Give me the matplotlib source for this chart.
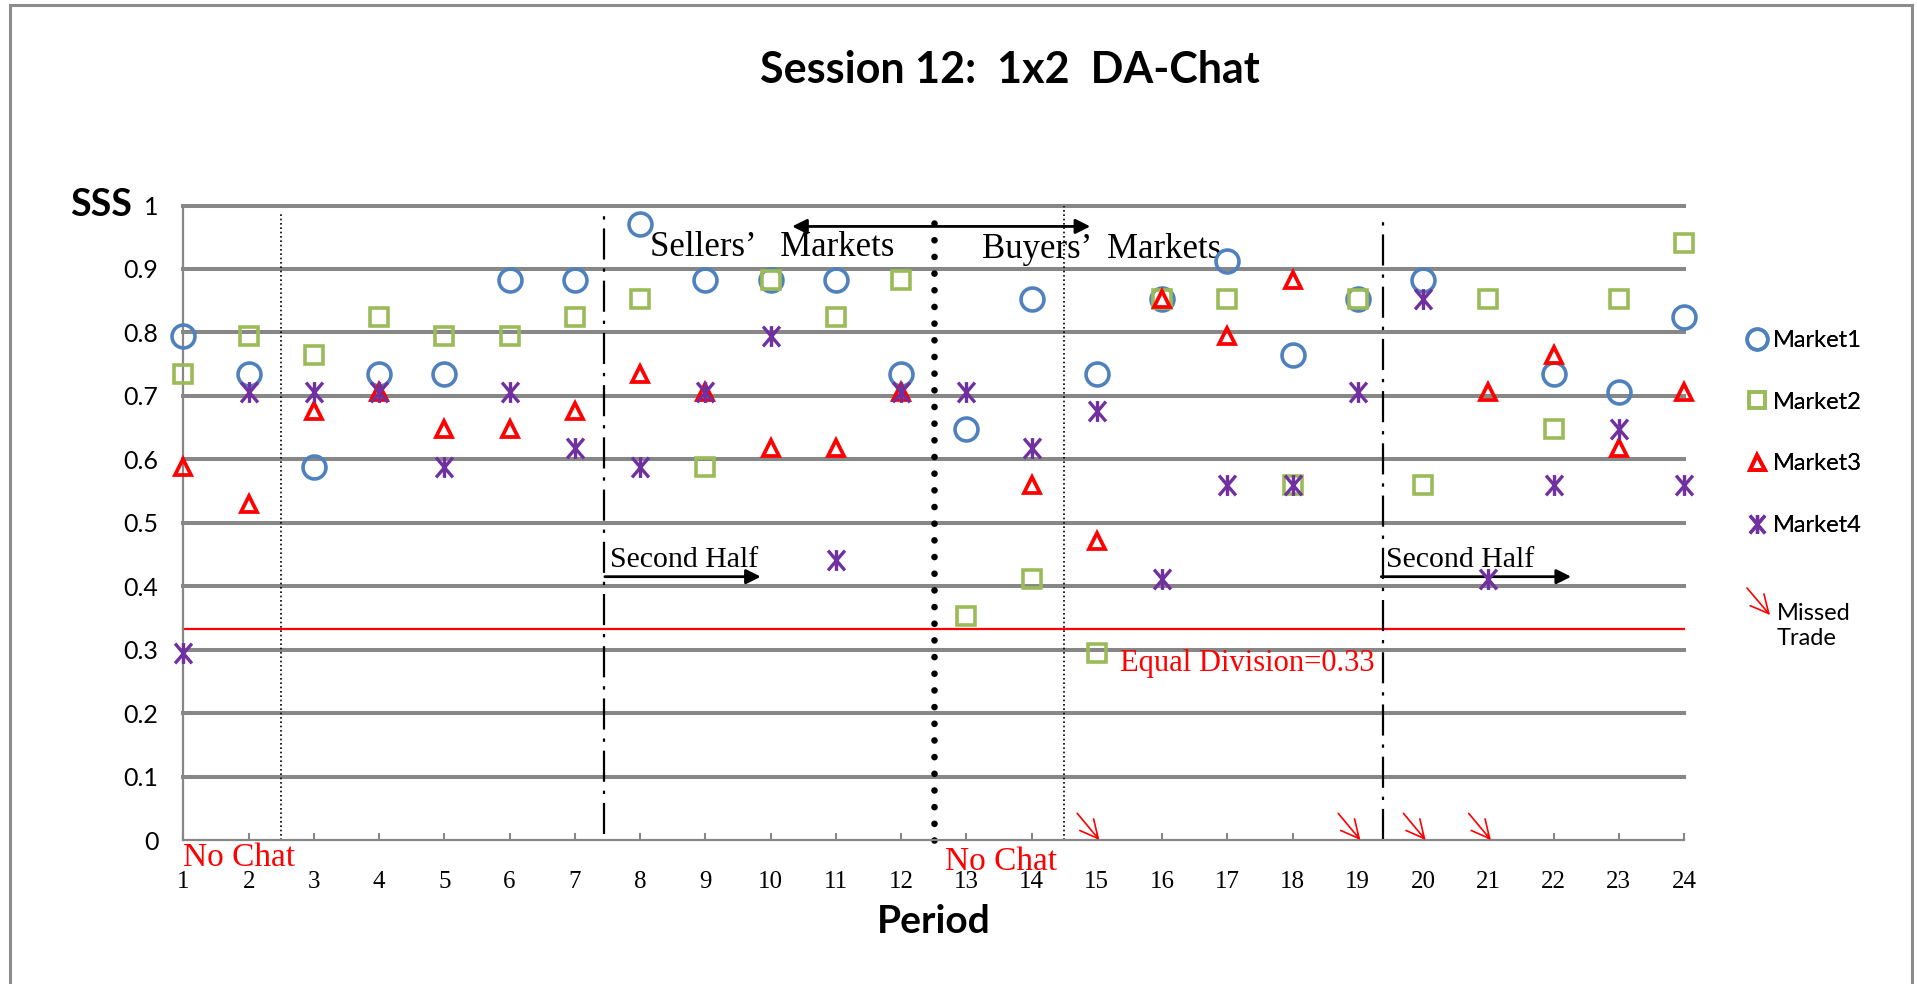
import matplotlib
matplotlib.use("Agg")
import matplotlib.pyplot as plt
from matplotlib.path import Path
import numpy as np

# ---------------- data ----------------
periods = list(range(1, 25))
market1 = [0.794, 0.735, 0.588, 0.735, 0.735, 0.882, 0.882, 0.971, 0.882, 0.882, 0.882, 0.735,
           0.647, 0.853, 0.735, 0.853, 0.912, 0.765, 0.853, 0.882, None, 0.735, 0.706, 0.824]
market2 = [0.735, 0.794, 0.765, 0.824, 0.794, 0.794, 0.824, 0.853, 0.588, 0.882, 0.824, 0.882,
           0.353, 0.412, 0.294, 0.853, 0.853, 0.559, 0.853, 0.559, 0.853, 0.647, 0.853, 0.941]
market3 = [0.588, 0.529, 0.676, 0.706, 0.647, 0.647, 0.676, 0.735, 0.706, 0.618, 0.618, 0.706,
           None, 0.559, 0.471, 0.853, 0.794, 0.882, None, None, 0.706, 0.765, 0.618, 0.706]
market4 = [0.294, 0.706, 0.706, 0.706, 0.588, 0.706, 0.618, 0.588, 0.706, 0.794, 0.441, 0.706,
           0.706, 0.618, 0.676, 0.412, 0.559, 0.559, 0.706, 0.853, 0.412, 0.559, 0.647, 0.559]
missed_trades = [15, 19, 20, 21]
equal_division = 1 / 3
y_ticks = [0, 0.1, 0.2, 0.3, 0.4, 0.5, 0.6, 0.7, 0.8, 0.9, 1.0]
y_tick_labels = ["0", "0.1", "0.2", "0.3", "0.4", "0.5", "0.6", "0.7", "0.8", "0.9", "1"]
series_labels = ["Market1", "Market2", "Market3", "Market4"]

# ---------------- figure ----------------
W, H = 1917, 984
fig = plt.figure(figsize=(W / 100, H / 100), dpi=100)
fig.patch.set_facecolor("white")

# outer frame (left, top, right edges)
frame_col = "#8c8c8c"
for xs_, ys_ in [([10, 10], [984, 5]), ([10, 1912], [5, 5]), ([1912, 1912], [5, 984])]:
    fig.add_artist(plt.Line2D([v / W for v in xs_], [1 - v / H for v in ys_],
                              transform=fig.transFigure, color=frame_col, lw=2.2))

x0, x1 = 183.4, 1684.0
y0, y1 = 840.0, 205.5
ax = fig.add_axes([x0 / W, 1 - y0 / H, (x1 - x0) / W, (y0 - y1) / H])
ax.set_xlim(1, 24)
ax.set_ylim(0, 1)

grid_col = "#878787"
for yv in y_ticks[1:]:
    ax.axhline(yv, color=grid_col, lw=2.9, zorder=1, clip_on=False)

for s in ["top", "right"]:
    ax.spines[s].set_visible(False)
for s in ["left", "bottom"]:
    ax.spines[s].set_color(grid_col)
    ax.spines[s].set_linewidth(1.6)

ax.set_yticks(y_ticks)
ax.set_yticklabels(y_tick_labels, fontfamily="Lato", fontsize=18)
ax.tick_params(axis="y", length=0, pad=18)
ax.set_xticks(periods)
ax.set_xticklabels([str(p) for p in periods], fontfamily="Liberation Serif", fontsize=18)
ax.tick_params(axis="x", direction="in", length=5, width=1.5, color=grid_col, pad=22)

# equal division line
ax.axhline(equal_division, color="red", lw=1.6, zorder=2, clip_on=False)

# vertical separators
ax.plot([2.5, 2.5], [0, 0.99], color="black", lw=1.2, linestyle=(0, (1, 1.6)), zorder=2)
ax.plot([14.5, 14.5], [0, 1.0], color="black", lw=1.2, linestyle=(0, (1, 1.6)), zorder=2)
ax.plot([7.45, 7.45], [0.01, 0.985], color="black", lw=1.6,
        linestyle=(0, (14, 4, 1.5, 4)), zorder=2)
ax.plot([19.38, 19.38], [0.0, 0.985], color="black", lw=1.6,
        linestyle=(0, (14, 4, 1.5, 4)), zorder=2)
ax.plot([12.5, 12.5], [0.0, 0.987], color="black", lw=4.8,
        linestyle=(0, (0.001, 2.5)), dash_capstyle="round", zorder=2, clip_on=False)

# star (asterisk) marker like Excel
star_path = Path([(-0.85, -1), (0.85, 1), (-0.85, 1), (0.85, -1), (0, -1.05), (0, 1.05)],
                 [Path.MOVETO, Path.LINETO, Path.MOVETO, Path.LINETO, Path.MOVETO, Path.LINETO])


def series(vals):
    xs = [p for p, v in zip(periods, vals) if v is not None]
    ys = [v for v in vals if v is not None]
    return xs, ys


styles = [
    dict(marker="o", markersize=16.5, markerfacecolor="none", markeredgecolor="#4F81BD",
         markeredgewidth=2.6),
    dict(marker="s", markersize=12.5, markerfacecolor="none", markeredgecolor="#9BBB59",
         markeredgewidth=2.6),
    dict(marker="^", markersize=12, markerfacecolor="none", markeredgecolor="#FF0000",
         markeredgewidth=2.7),
    dict(marker=star_path, markersize=15, markerfacecolor="none", markeredgecolor="#7030A0",
         markeredgewidth=2.4),
]
handles = []
for vals, st, lab in zip([market1, market2, market3, market4], styles, series_labels):
    xs, ys = series(vals)
    h, = ax.plot(xs, ys, linestyle="none", clip_on=False, zorder=5, label=lab, **st)
    handles.append(h)

# missed trade arrows
for p in missed_trades:
    ax.annotate("", xy=(p + 0.04, 0.0), xytext=(p - 0.3, 0.042),
                arrowprops=dict(arrowstyle="->,head_length=0.5,head_width=0.25", color="red",
                                lw=1.2, shrinkA=0, shrinkB=0, mutation_scale=26),
                annotation_clip=False, zorder=6)

# text annotations
serif = "Liberation Serif"
ax.text(8.15, 0.920, "Sellers\u2019   Markets", fontfamily=serif, fontsize=25, va="baseline",
        ha="left", zorder=4)
ax.text(13.24, 0.917, "Buyers\u2019  Markets", fontfamily=serif, fontsize=25, va="baseline",
        ha="left", zorder=4)
ax.annotate("", xy=(10.33, 0.967), xytext=(14.9, 0.967),
            arrowprops=dict(arrowstyle="<|-|>", color="black", lw=2.0, shrinkA=0, shrinkB=0,
                            mutation_scale=22), zorder=4)
for xs_, xe_, xt_ in [(7.46, 9.85, 7.54), (19.36, 22.27, 19.43)]:
    ax.text(xt_, 0.4295, "Second Half", fontfamily=serif, fontsize=21.5, va="baseline",
            ha="left")
    ax.annotate("", xy=(xe_, 0.415), xytext=(xs_, 0.415),
                arrowprops=dict(arrowstyle="-|>", color="black", lw=2.0, shrinkA=0, shrinkB=0,
                                mutation_scale=22), zorder=4)
ax.text(15.35, 0.2666, "Equal Division=0.33", fontfamily=serif, fontsize=22, color="red",
        va="baseline", ha="left")
ax.text(1.0, -0.0405, "No Chat", fontfamily=serif, fontsize=24, color="red", va="baseline",
        ha="left", clip_on=False)
ax.text(12.68, -0.047, "No Chat", fontfamily=serif, fontsize=24, color="red", va="baseline",
        ha="left", clip_on=False)

# labels
ax.set_xlabel("Period", fontfamily="Lato", fontweight="bold", fontsize=28, labelpad=8)
fig.text(132 / W, 1 - 205 / H, "SSS", fontfamily="Lato", fontweight="bold", fontsize=27,
         ha="right", va="center")
fig.text(1010 / W, 1 - 70 / H, "Session 12:  1x2  DA-Chat", fontfamily="Lato",
         fontweight="bold", fontsize=31, ha="center", va="center")

# legend
leg = fig.legend(handles=handles, labels=series_labels, loc="upper left",
                 bbox_to_anchor=(1746 / W, 1 - 330 / H), frameon=False,
                 prop=dict(family="Lato", size=17), handlelength=0.9, handletextpad=0.25,
                 labelspacing=1.72, markerscale=0.9, borderpad=0, borderaxespad=0)
fig.add_artist(leg)
fig.add_artist(matplotlib.patches.FancyArrowPatch(
    (1747 / W, 1 - 588 / H), (1770 / W, 1 - 615 / H), transform=fig.transFigure,
    arrowstyle="->,head_length=0.5,head_width=0.25", color="red", lw=1.2, mutation_scale=26,
    shrinkA=0, shrinkB=0))
fig.text(1777 / W, 1 - 626 / H, "Missed\nTrade", fontfamily="Lato", fontsize=17, ha="left",
         va="center", linespacing=1.25)

fig.savefig("out.png", dpi=100, facecolor="white")
